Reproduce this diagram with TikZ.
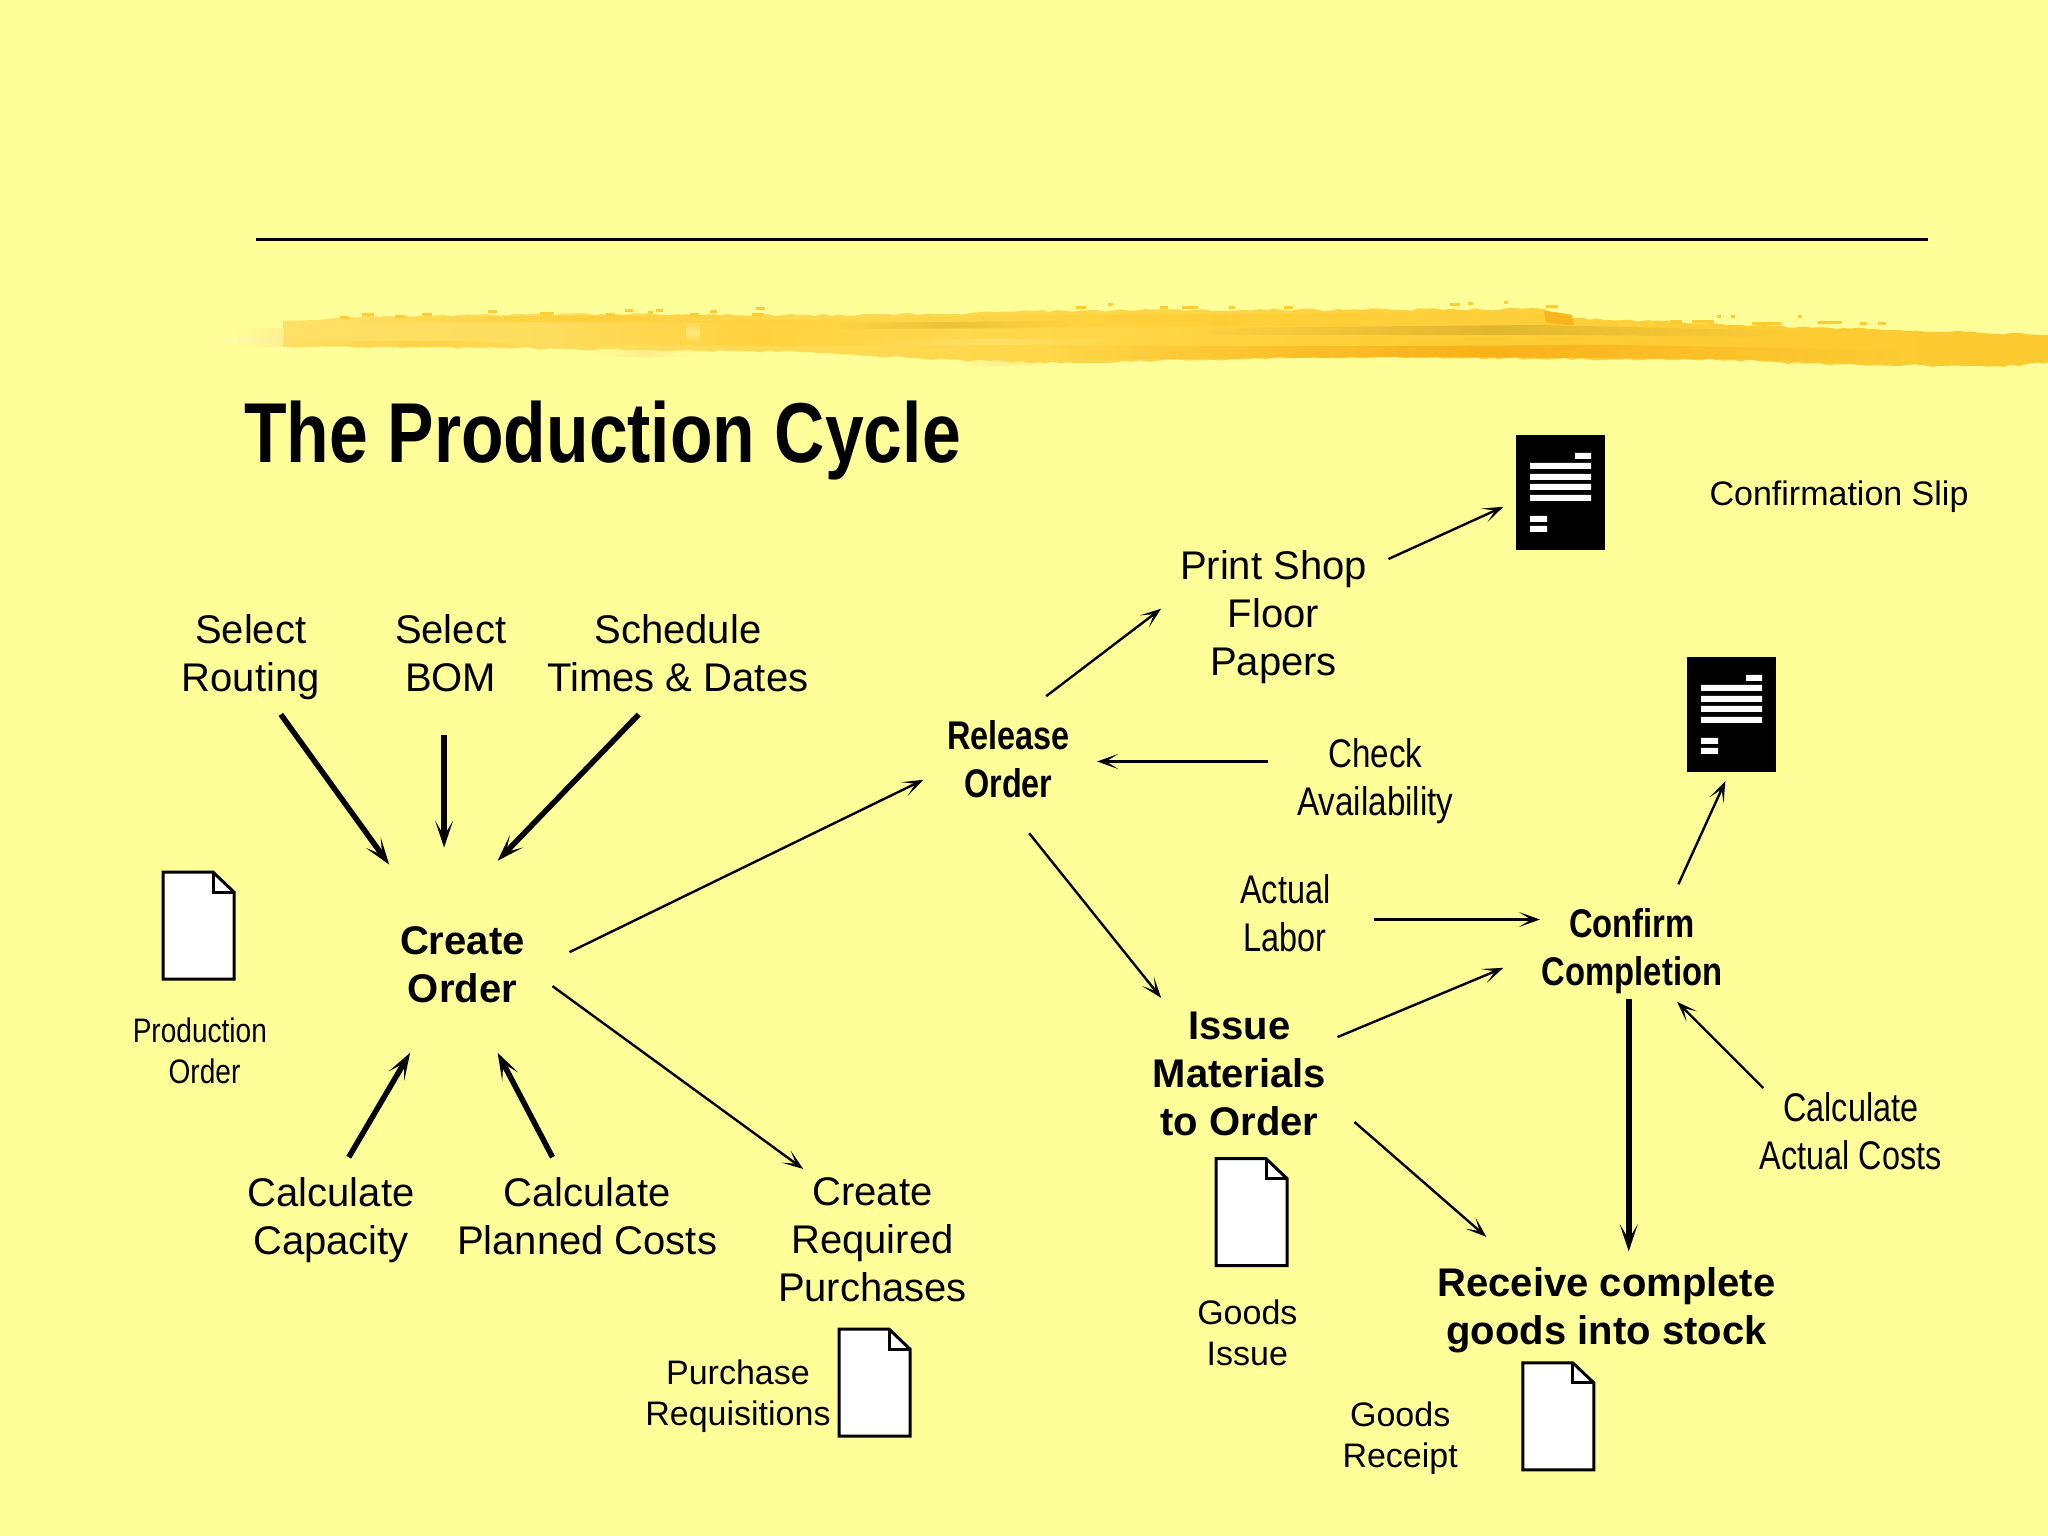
\documentclass[tikz,border=0pt]{standalone}
\usepackage{fontspec}
\setmainfont{Liberation Sans}
\usetikzlibrary{arrows.meta,decorations.pathmorphing,fadings}
\definecolor{bgy}{HTML}{FFFF99}
\definecolor{brushL}{HTML}{FFE066}
\definecolor{brushM}{HTML}{FFD544}
\definecolor{brushR}{HTML}{FCC92E}
\definecolor{brushEdge}{HTML}{FFCC33}
\definecolor{brushOlive}{HTML}{D9B12C}
\definecolor{brushOrange}{HTML}{F9B118}
\definecolor{brushPale}{HTML}{FFEE8C}
\definecolor{brushTip}{HTML}{FFF7C8}
\tikzfading[name=softends,left color=transparent!100,right color=transparent!100,middle color=transparent!0]
\tikzfading[name=softvert,top color=transparent!100,bottom color=transparent!100,middle color=transparent!0]
\tikzset{
  txt/.style={align=center,inner sep=0pt,font=\fontsize{40}{48}\selectfont},
  bld/.style={txt,font=\fontsize{40}{48}\selectfont\bfseries},
  sml/.style={align=center,inner sep=0pt,font=\fontsize{34}{41}\selectfont},
  narrow/.style={xscale=#1,transform shape},
  thin arrow/.style={-{Stealth[length=21pt,width=15pt,inset=12pt]},line width=2.4pt},
  heavy arrow/.style={-{Stealth[length=27pt,width=18pt,inset=15pt]},line width=5.5pt},
  brush/.style={decoration={random steps,segment length=8pt,amplitude=1.2pt},decorate},
  streak/.style={path fading=softends},
  band/.style={path fading=softvert},
  whitedoc/.pic={
    \draw[x=1pt,y=-1pt,fill=white,line width=3pt,line join=miter]
      (0,0) -- (50,0) -- (71,20) -- (71,107) -- (0,107) -- cycle;
    \draw[x=1pt,y=-1pt,line width=3pt] (50,0) -- (50,20) -- (71,20);
  },
  blackdoc/.pic={
    \fill[x=1pt,y=-1pt,black] (0,0) rectangle (89,115);
    \fill[x=1pt,y=-1pt,white] (59,18) rectangle (75,24)
      (14,28) rectangle (75,34) (14,39) rectangle (75,45)
      (14,49) rectangle (75,55) (14,60) rectangle (75,66)
      (14,81) rectangle (31,87) (14,91) rectangle (31,97);
  }
}
\begin{document}
\begin{tikzpicture}[x=1.30612pt,y=-1.30612pt]
\useasboundingbox (0,0) rectangle (1568,1176);
\fill[bgy] (0,0) rectangle (1568,1176);
\pgfmathsetseed{11}
% rule
\coordinate (ruleL) at (196,183);
\coordinate (ruleR) at (1476,183);
\draw[line width=3pt] (ruleL) -- (ruleR);
% brush stroke (reference pixels)
\begin{scope}[x=1pt,y=-1pt]
\clip (0,0) rectangle (2048,1536);
% pale tip
\fill[brushTip,path fading=west] (205,337) rectangle (290,343);
\fill[brushPale,path fading=west] (233,328) rectangle (290,347);
% pale underside patches
\fill[brushPale,path fading=softends] (590,348) rectangle (700,357);
\fill[brushPale,path fading=softends] (950,356) rectangle (1060,366);
% body
\shade[left color=brushL,right color=brushR,middle color=brushM,brush]
  (283,321) -- (388,316) -- (546,314) -- (688,314) -- (783,315) -- (938,314) -- (1033,311)
  -- (1195,310) -- (1544,309) -- (1574,318) -- (1740,325) -- (1900,330) -- (2060,335)
  -- (2060,360) -- (2020,366) -- (1828,365) -- (1732,360) -- (1420,358) -- (1314,357)
  -- (1156,361) -- (1045,363) -- (907,358) -- (800,352) -- (625,350) -- (506,348) -- (283,347) -- cycle;
% streaks
\fill[brushEdge,opacity=.8,streak] (340,317) -- (690,315) -- (830,317) -- (830,322) -- (500,322) -- (340,323) -- cycle;
\fill[brushEdge,opacity=.6,streak] (283,341) -- (470,341) -- (560,347) -- (283,347) -- cycle;
\fill[brushEdge,opacity=.6,streak] (560,322) -- (800,320) -- (960,322) -- (960,345) -- (800,346) -- (560,344) -- cycle;
\fill[brushPale,opacity=.8,band] (686,321) rectangle (700,343);
\fill[brushEdge,opacity=.7,streak] (820,317) -- (1500,312) -- (1620,322) -- (1500,326) -- (820,327) -- cycle;
\fill[brushOlive,opacity=.5,streak] (830,323) -- (1070,321) -- (1070,328) -- (830,329) -- cycle;
\fill[brushPale,opacity=.4,streak] (850,340) -- (1140,338) -- (1140,344) -- (850,346) -- cycle;
\fill[brushOlive,opacity=.8,streak] (1180,328) -- (1540,325) -- (1800,331) -- (1800,337) -- (1540,335) -- (1180,335) -- cycle;
\fill[brushEdge,opacity=.8,streak] (1120,336) -- (1540,337) -- (2040,340) -- (2040,348) -- (1120,346) -- cycle;
\fill[brushOrange,streak] (1060,346) -- (1400,346) -- (1620,345) -- (1900,350) -- (1900,364) -- (1730,359) -- (1420,357) -- (1060,360) -- cycle;
\fill[brushOrange,opacity=.85,brush] (1544,311) -- (1572,315) -- (1574,325) -- (1546,322) -- cycle;
\foreach \px/\py/\pw in {340/316/9,362/313/12,395/315/10,422/313/10,488/310/9,540/312/14,606/313/9,625/309/8,648/311/5,656/309/7,690/313/9,710/310/7,756/307/9,752/313/12,1076/306/10,1108/303/5,1160/306/8,1182/306/16,1229/306/6,1284/306/9,1450/303/10,1468/302/5,1504/301/4,1546/305/12,1670/320/12,1692/320/22,1717/315/4,1731/315/4,1752/322/30,1798/315/4,1818/321/24,1860/322/7,1878/322/8}
  \fill[brushEdge] (\px,\py) rectangle +(\pw,3);
\end{scope}
% title
\node[anchor=west,inner sep=0pt,font=\fontsize{85}{100}\selectfont\bfseries,narrow=.82] (title) at (187,337) {The Production Cycle};
% nodes
\node[txt] (routing) at (192,503) {Select\\Routing};
\node[txt] (bom) at (345,500) {Select\\BOM};
\node[txt] (sched) at (519,500) {Schedule\\Times \& Dates};
\node[bld] (create) at (354,738.5) {Create\\Order};
\node[txt] (capac) at (253.5,934) {Calculate\\Capacity};
\node[txt] (planned) at (449.5,931) {Calculate\\Planned Costs};
\node[txt] (reqpur) at (668,949.5) {Create\\Required\\Purchases};
\node[bld,narrow=.81] (release) at (772,581) {Release\\Order};
\node[txt] (print) at (975,472.5) {Print Shop\\Floor\\Papers};
\node[txt,narrow=.83] (check) at (1053,598) {Check\\Availability};
\node[txt,narrow=.81] (labor) at (984,699) {Actual\\Labor};
\node[bld,narrow=.82] (confirm) at (1249.5,728.5) {Confirm\\Completion};
\node[txt,narrow=.81] (actcost) at (1417,866) {Calculate\\Actual Costs};
\node[bld] (issue) at (949,822.5) {Issue\\Materials\\to Order};
\node[bld] (receive) at (1230,1003) {Receive complete\\goods into stock};
\node[sml,narrow=.825] (prodord) at (153,804.5) {Production\\ \,\,Order};
\node[sml] (purreq) at (565,1069) {Purchase\\Requisitions};
\node[sml] (gissue) at (955,1020.5) {Goods\\Issue};
\node[sml] (greceipt) at (1072,1101) {Goods\\Receipt};
\node[sml] (slip) at (1408,380) {Confirmation Slip};
% documents
\pic (docprod) at (124.8,667.7) {whitedoc};
\pic (docissue) at (931,887) {whitedoc};
\pic (docpur) at (642.4,1017.6) {whitedoc};
\pic (docrec) at (1166,1043.5) {whitedoc};
\pic (docslip) at (1160.7,333) {blackdoc};
\pic (docconf) at (1291.6,503) {blackdoc};
% connector ends
\coordinate (routingOut) at (215,547);   \coordinate (createInA) at (298,662);
\coordinate (bomOut) at (340,563);       \coordinate (createInB) at (340,649);
\coordinate (schedOut) at (489,547);     \coordinate (createInC) at (381,659);
\coordinate (capacOut) at (267,886);     \coordinate (createInD) at (314,806);
\coordinate (plannedOut) at (423,886);   \coordinate (createInE) at (381,806);
\coordinate (createOutA) at (436,729);   \coordinate (releaseIn) at (707,597);
\coordinate (createOutB) at (423,755);   \coordinate (reqpurIn) at (615,895);
\coordinate (releaseOutA) at (801,533);  \coordinate (printIn) at (889,466);
\coordinate (printOut) at (1063,428);    \coordinate (slipIn) at (1151,388);
\coordinate (checkOut) at (971,583);     \coordinate (releaseInB) at (840,583);
\coordinate (releaseOutB) at (788,638);  \coordinate (issueIn) at (889,764);
\coordinate (laborOut) at (1052,704);    \coordinate (confirmInA) at (1179,704);
\coordinate (issueOutA) at (1024,794);   \coordinate (confirmInB) at (1151,741);
\coordinate (confirmOutA) at (1285,677); \coordinate (docconfIn) at (1321,598);
\coordinate (actcostOut) at (1350,833);  \coordinate (confirmInC) at (1284,767);
\coordinate (issueOutB) at (1037,859);   \coordinate (receiveInA) at (1138,947);
\coordinate (confirmOutB) at (1247,765); \coordinate (receiveInB) at (1247,958);
% connectors
\draw[heavy arrow] (routingOut) -- (createInA);
\draw[heavy arrow] (bomOut) -- (createInB);
\draw[heavy arrow] (schedOut) -- (createInC);
\draw[heavy arrow] (capacOut) -- (createInD);
\draw[heavy arrow] (plannedOut) -- (createInE);
\draw[heavy arrow] (confirmOutB) -- (receiveInB);
\draw[thin arrow] (createOutA) -- (releaseIn);
\draw[thin arrow] (createOutB) -- (reqpurIn);
\draw[thin arrow] (releaseOutA) -- (printIn);
\draw[thin arrow] (printOut) -- (slipIn);
\draw[thin arrow] (checkOut) -- (releaseInB);
\draw[thin arrow] (releaseOutB) -- (issueIn);
\draw[thin arrow] (laborOut) -- (confirmInA);
\draw[thin arrow] (issueOutA) -- (confirmInB);
\draw[thin arrow] (confirmOutA) -- (docconfIn);
\draw[thin arrow] (actcostOut) -- (confirmInC);
\draw[thin arrow] (issueOutB) -- (receiveInA);
\end{tikzpicture}
\end{document}
